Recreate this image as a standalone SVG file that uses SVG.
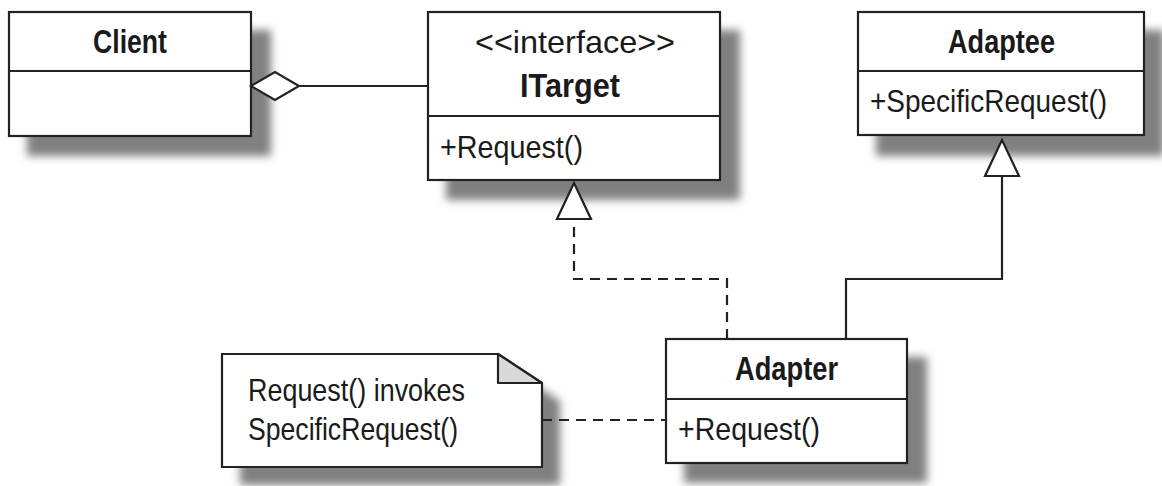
<svg xmlns="http://www.w3.org/2000/svg" width="1162" height="486" viewBox="0 0 1162 486">
<defs>
<filter id="sh" x="-20%" y="-20%" width="150%" height="150%">
<feGaussianBlur stdDeviation="4.5"/>
</filter>
</defs>
<style>
.box{fill:#fff;stroke:#222;stroke-width:2.2}
.shadow{fill:#808080;filter:url(#sh)}
.ln{fill:none;stroke:#222;stroke-width:2.2}
.dash{fill:none;stroke:#222;stroke-width:2.2;stroke-dasharray:10 7}
.t{font-family:"Liberation Sans",Arial,sans-serif;font-size:32px;fill:#1a1a1a}
.b{font-weight:bold;font-size:34px}
</style>
<rect width="1162" height="486" fill="#fff"/>
<g id="client">
<rect class="shadow" x="27" y="30" width="244" height="126"/>
<rect class="box" x="9" y="12" width="242" height="124"/>
<line class="ln" x1="9" y1="71" x2="251" y2="71"/>
<text class="t b" x="93" y="53" textLength="74" lengthAdjust="spacingAndGlyphs">Client</text>
</g>
<g id="itarget">
<rect class="shadow" x="446" y="30" width="294" height="170"/>
<rect class="box" x="428" y="12" width="292" height="168"/>
<line class="ln" x1="428" y1="116" x2="720" y2="116"/>
<text class="t" x="475" y="53" textLength="200" lengthAdjust="spacingAndGlyphs">&lt;&lt;interface&gt;&gt;</text>
<text class="t b" x="520" y="97" textLength="100" lengthAdjust="spacingAndGlyphs">ITarget</text>
<text class="t" x="440" y="158" textLength="143" lengthAdjust="spacingAndGlyphs">+Request()</text>
</g>
<g id="adaptee">
<rect class="shadow" x="876" y="30" width="288" height="126"/>
<rect class="box" x="858" y="12" width="286" height="123"/>
<line class="ln" x1="858" y1="71" x2="1144" y2="71"/>
<text class="t b" x="948" y="53" textLength="107" lengthAdjust="spacingAndGlyphs">Adaptee</text>
<text class="t" x="870" y="112" textLength="237" lengthAdjust="spacingAndGlyphs">+SpecificRequest()</text>
</g>
<g id="adapter">
<rect class="shadow" x="684" y="357" width="243" height="126"/>
<rect class="box" x="666" y="339" width="241" height="124"/>
<line class="ln" x1="666" y1="399" x2="907" y2="399"/>
<text class="t b" x="735" y="380" textLength="103" lengthAdjust="spacingAndGlyphs">Adapter</text>
<text class="t" x="678" y="440" textLength="142" lengthAdjust="spacingAndGlyphs">+Request()</text>
</g>
<g id="note">
<polygon class="shadow" points="240,372 516,372 560,401 560,485 240,485"/>
<polygon class="box" points="222,354 498,354 542,383 542,467 222,467"/>
<polygon points="498,354 498,383 542,383" fill="#d9d9d9" stroke="#222" stroke-width="2.2" stroke-linejoin="round"/>
<text class="t" x="248" y="401" textLength="217" lengthAdjust="spacingAndGlyphs">Request() invokes</text>
<text class="t" x="248" y="440" textLength="210" lengthAdjust="spacingAndGlyphs">SpecificRequest()</text>
</g>
<g id="connectors">
<line class="ln" x1="299" y1="86" x2="428" y2="86"/>
<polygon points="251,86 275,72 299,86 275,100" fill="#fff" stroke="#222" stroke-width="2.2"/>
<polyline class="dash" points="727,339 727,279 574,279 574,219"/>
<polygon points="574,183 557,219 591,219" fill="#fff" stroke="#222" stroke-width="2.2"/>
<polyline class="ln" points="846,339 846,279 1002,279 1002,176"/>
<polygon points="1002,140 985,176 1019,176" fill="#fff" stroke="#222" stroke-width="2.2"/>
<line class="dash" x1="542" y1="420" x2="666" y2="420"/>
</g>
</svg>
